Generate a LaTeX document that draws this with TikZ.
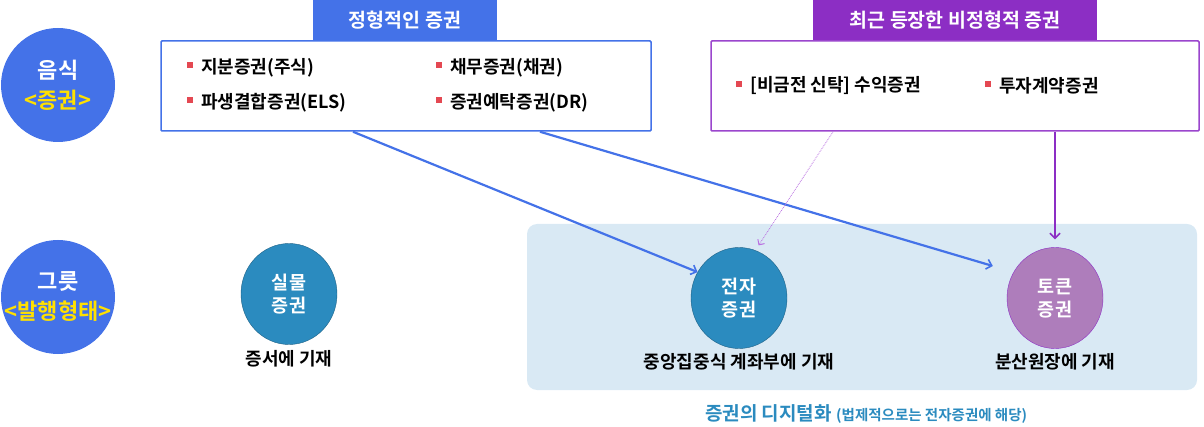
\documentclass[tikz,border=0pt]{standalone}
\usepackage{fontspec}
\setmainfont{Noto Sans CJK KR}[BoldFont={Noto Sans CJK KR Bold}]
\usetikzlibrary{shapes.geometric,arrows.meta}
\definecolor{stdblue}{RGB}{68,114,232}
\definecolor{nonpurple}{RGB}{140,46,196}
\definecolor{boxpurple}{RGB}{155,70,205}
\definecolor{dotpurple}{RGB}{185,110,225}
\definecolor{tealc}{RGB}{43,139,191}
\definecolor{tokfill}{RGB}{174,125,187}
\definecolor{regionbg}{RGB}{217,233,244}
\definecolor{hiyellow}{RGB}{255,224,0}
\definecolor{bulred}{RGB}{228,72,82}
\newcommand{\bul}{\textcolor{bulred}{\rule[0.3em]{6pt}{6pt}}\hspace{8pt}}
\tikzset{
  head/.style={text=white,font=\fontsize{19.5}{22}\selectfont\bfseries,minimum height=40pt,inner sep=0pt},
  frame/.style={draw,line width=1.5pt,fill=white,rounded corners=1pt,minimum height=90pt,inner sep=0pt},
  item/.style={anchor=west,inner sep=0pt,font=\fontsize{18}{20}\selectfont\bfseries},
  cat/.style={ellipse,fill=stdblue,text=white,minimum width=114pt,minimum height=114pt,inner sep=0pt,
    align=center,font=\fontsize{22}{30}\selectfont\bfseries},
  sec/.style={ellipse,draw=tealc!70!black,line width=0.4pt,fill=tealc,text=white,minimum width=96pt,minimum height=101pt,
    inner sep=0pt,align=center,font=\fontsize{18.5}{23}\selectfont\bfseries},
  note/.style={inner sep=0pt,font=\fontsize{18}{20}\selectfont\bfseries},
  bluearr/.style={draw=stdblue,line width=2.2pt,-{Straight Barb[length=5pt,width=10pt,line width=1.6pt]}},
}

\begin{document}
\begin{tikzpicture}[x=1pt,y=-1pt]
  \useasboundingbox (0,0) rectangle (1204,427);
  % left labels
  \node[cat] (food) at (58,85) {음식\\\textcolor{hiyellow}{\makebox[0pt]{<증권>}}};
  \node[cat] (bowl) at (58,297) {그릇\\\textcolor{hiyellow}{\makebox[0pt]{<발행형태>}}};
  % digitised area
  \node[fill=regionbg,rounded corners=10pt,minimum width=670pt,minimum height=166pt] (digi) at (862,307) {};
  \node[anchor=base west,inner sep=0pt,text=tealc,font=\fontsize{19}{21}\selectfont\bfseries] (digit) at (705,420)
    {증권의 디지털화 {\fontsize{14.5}{16}\selectfont (법제적으로는 전자증권에 해당)}};
  % standard securities
  \node[head,fill=stdblue,minimum width=184pt] (stdhead) at (405,20) {정형적인 증권};
  \node[frame,draw=stdblue,minimum width=490pt] (stdbox) at (406,86) {};
  \node[item] (eq) at (187,68) {\bul 지분증권(주식)};
  \node[item] (debt) at (436,68) {\bul 채무증권(채권)};
  \node[item] (els) at (187,103) {\bul 파생결합증권(ELS)};
  \node[item] (dr) at (436,103) {\bul 증권예탁증권(DR)};
  % atypical securities
  \node[head,fill=nonpurple,minimum width=284pt] (nonhead) at (955,20) {최근 등장한 비정형적 증권};
  \node[frame,draw=boxpurple,minimum width=488pt] (nonbox) at (955,86) {};
  \node[item] (trust) at (736,86) {\bul [비금전 신탁] 수익증권};
  \node[item] (invest) at (985,86) {\bul 투자계약증권};
  % forms of issue
  \node[sec] (paper) at (289,294) {실물\\증권};
  \node[note,below=5pt] (papert) at (paper.south) {증서에 기재};
  \node[sec] (elec) at (739,298) {전자\\증권};
  \node[note,below=5pt] (elect) at (elec.south) {중앙집중식 계좌부에 기재};
  \node[sec,fill=tokfill,draw=nonpurple] (tok) at (1055,298) {토큰\\증권};
  \node[note,below=5pt] (tokt) at (tok.south) {분산원장에 기재};
  % connectors
  \draw[bluearr] ([xshift=-53pt]stdbox.south) -- (elec.148);
  \draw[bluearr] ([xshift=134pt]stdbox.south) -- ([xshift=-14pt,yshift=32pt]tok.west);
  \draw[dotpurple,line width=0.8pt,densely dotted,-{Straight Barb[length=4pt,width=8pt,line width=1pt,sep]}]
    ([xshift=-122pt]nonbox.south) -- ([xshift=19pt,yshift=1pt]elec.north);
  \draw[nonpurple,line width=2.5pt,-{Straight Barb[length=5pt,width=10pt,line width=1.6pt]}]
    (nonbox.south -| tok.north) -- ([yshift=8pt]tok.north);
\end{tikzpicture}
\end{document}
